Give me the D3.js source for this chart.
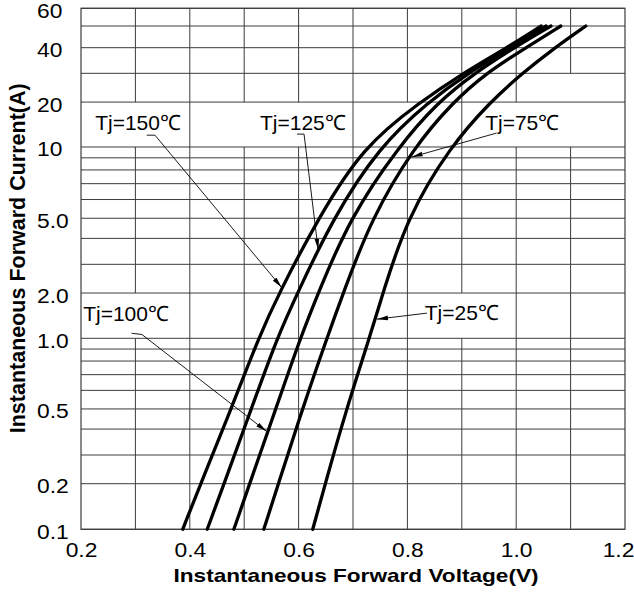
<!DOCTYPE html>
<html>
<head>
<meta charset="utf-8">
<script src="https://cdn.jsdelivr.net/npm/d3@7"></script>
<style>
  body { margin: 0; background: #fff; }
  text { font-family: "Liberation Sans", Arial, sans-serif; }
</style>
</head>
<body>
<div id="chart"></div>
<script>
const currents = [0.1, 0.2, 0.5, 1, 2, 5, 10, 20, 30, 40, 50];

// forward voltage (V) of each curve at those currents
const vf150 = [0.387, 0.420, 0.476, 0.526, 0.564, 0.636, 0.718, 0.823, 0.902, 0.983, 1.046];
const vf125 = [0.432, 0.463, 0.513, 0.560, 0.598, 0.663, 0.748, 0.838, 0.911, 0.989, 1.055];
const vf100 = [0.481, 0.510, 0.558, 0.603, 0.636, 0.694, 0.783, 0.856, 0.923, 0.996, 1.064];
const vf75  = [0.536, 0.563, 0.607, 0.652, 0.682, 0.734, 0.812, 0.884, 0.944, 1.018, 1.082];
const vf25  = [0.626, 0.649, 0.688, 0.730, 0.755, 0.799, 0.878, 0.952, 1.011, 1.071, 1.128];

const seriesNames = ["Tj=150℃", "Tj=125℃", "Tj=100℃", "Tj=75℃", "Tj=25℃"];
const seriesVf = [vf150, vf125, vf100, vf75, vf25];

// label text anchor (V, A), leader line points (V, A), last one is the arrow tip
const labelAt   = [[0.226, 13.0], [0.529, 13.0], [0.204, 1.30], [0.943, 13.0], [0.832, 1.32]];
const leaderPts = [
  [[0.321, 12.0], [0.336, 12.0], [0.569, 2.16]],
  [[0.597, 12.2], [0.610, 12.2], [0.636, 3.53]],
  [[0.293, 1.08], [0.312, 1.06], [0.541, 0.39]],
  [[0.964, 12.4], [0.808, 9.07]],
  [[0.836, 1.47], [0.744, 1.34]]
];

const xTicks = [0.2, 0.4, 0.6, 0.8, 1.0, 1.2];
const yTicks = [0.1, 0.2, 0.5, 1, 2, 5, 10, 20, 40, 60];
const yTickLabels = ["0.1", "0.2", "0.5", "1.0", "2.0", "5.0", "10", "20", "40", "60"];

// the printed grid is not an exact log grid: where some of its lines sit (share of the height)
const yKnots     = [0.1, 0.2, 0.3, 0.5, 1, 2, 3, 5, 10, 20, 30, 40, 60];
const yKnotShare = [0, 0.0875, 0.1426, 0.231, 0.3666, 0.4535, 0.5086, 0.597, 0.7338, 0.820, 0.8752, 0.9244, 1];

const xGrid = d3.range(3, 12).map(k => k / 10);
const hGrid = [].concat(
    d3.range(1, 10).map(k => k / 10),
    d3.range(1, 10),
    d3.range(10, 70, 10));

// pieces of the vertical grid that are missing on the sheet: [V, fromA, toA]
const gridGaps = [
    [0.3, 10, 20], [0.5, 10, 20], [0.6, 10, 20], [0.8, 10, 20],
    [1.0, 10, 20], [1.1, 10, 20], [1.1, 20, 30],
    [0.3, 1, 2], [0.9, 1, 2]
];

const margin = {top: 8.3, right: 9, bottom: 64.7, left: 81},
      width = 634 - margin.left - margin.right,
      height = 594 - margin.top - margin.bottom;

const svg = d3.select("#chart")
    .append("svg")
    .attr("width", 634)
    .attr("height", 594)
    .append("g")
    .attr("transform", `translate(${margin.left}, ${margin.top})`);

const x = d3.scaleLinear().domain([0.2, 1.2]).range([0, width]);
const y = d3.scaleLog().domain(yKnots).range(yKnotShare.map(f => height * (1 - f)));

const gridColor = "#3c3c3c";

// horizontal grid
svg.append("g")
    .selectAll("line")
    .data(hGrid)
    .join("line")
        .attr("x1", 0)
        .attr("x2", width)
        .attr("y1", d => y(d))
        .attr("y2", d => y(d))
        .attr("stroke", gridColor)
        .attr("stroke-width", 1);

// vertical grid, band by band
const segs = [];
xGrid.forEach(v => {
    d3.pairs(hGrid).forEach(([lo, hi]) => {
        const gap = gridGaps.some(g => Math.abs(g[0] - v) < 1e-6 && g[1] === lo && g[2] === hi);
        if (!gap) segs.push({v, lo, hi});
    });
});
svg.append("g")
    .selectAll("line")
    .data(segs)
    .join("line")
        .attr("x1", d => x(d.v))
        .attr("x2", d => x(d.v))
        .attr("y1", d => y(d.lo))
        .attr("y2", d => y(d.hi))
        .attr("stroke", gridColor)
        .attr("stroke-width", 1);

// frame
svg.append("rect")
    .attr("width", width)
    .attr("height", height)
    .attr("fill", "none")
    .attr("stroke", gridColor)
    .attr("stroke-width", 1.2);

// curves
const line = d3.line()
    .x(d => x(d.v))
    .y(d => y(d.i))
    .curve(d3.curveBasis);

svg.append("g")
    .selectAll("path")
    .data(seriesVf.map(vf => vf.map((v, k) => ({v, i: currents[k]}))))
    .join("path")
        .attr("d", line)
        .attr("fill", "none")
        .attr("stroke", "#000")
        .attr("stroke-width", 3.3)
        .attr("stroke-linecap", "round");

// arrow marker
svg.append("defs").append("marker")
    .attr("id", "arrow")
    .attr("markerUnits", "userSpaceOnUse")
    .attr("viewBox", "0 -3 11 6")
    .attr("refX", 11)
    .attr("refY", 0)
    .attr("markerWidth", 11)
    .attr("markerHeight", 6)
    .attr("orient", "auto")
    .append("path")
    .attr("d", "M0,-2.3L11,0L0,2.3Z")
    .attr("fill", "#000");

const leader = d3.line()
    .x(d => x(d[0]))
    .y(d => y(d[1]));

svg.append("g")
    .selectAll("path")
    .data(leaderPts)
    .join("path")
        .attr("d", leader)
        .attr("fill", "none")
        .attr("stroke", "#000")
        .attr("stroke-width", 0.9)
        .attr("marker-end", "url(#arrow)");

svg.append("g")
    .selectAll("text")
    .data(seriesNames)
    .join("text")
        .attr("x", (d, k) => x(labelAt[k][0]))
        .attr("y", (d, k) => y(labelAt[k][1]))
        .attr("font-size", 21)
        .attr("fill", "#000")
        .text(d => d);

// axes (labels only, the frame is drawn above)
const xAxis = svg.append("g")
    .attr("transform", `translate(0, ${height})`)
    .call(d3.axisBottom(x).tickValues(xTicks).tickSize(0).tickFormat(d3.format(".1f")));
xAxis.select(".domain").remove();
xAxis.selectAll("text")
    .attr("y", null)
    .attr("dy", null)
    .attr("font-size", 19.5)
    .attr("font-family", "Liberation Sans, Arial, sans-serif")
    .attr("fill", "#000")
    // last label is pulled in so it stays on the page
    .attr("transform", d => `translate(${d === 1.2 ? -7 : 0}, 27.5) scale(1.17, 1)`);

const yAxis = svg.append("g")
    .call(d3.axisLeft(y).tickValues(yTicks).tickSize(0).tickFormat((d, k) => yTickLabels[k]));
yAxis.select(".domain").remove();
yAxis.selectAll("text")
    .attr("x", 0)
    .attr("dy", null)
    .attr("text-anchor", "start")
    .attr("font-size", 19.5)
    .attr("font-family", "Liberation Sans, Arial, sans-serif")
    .attr("fill", "#000")
    .attr("transform", "translate(-44, 9) scale(1.17, 1)");

// axis titles
svg.append("text")
    .attr("text-anchor", "middle")
    .attr("font-weight", "bold")
    .attr("font-size", 19)
    .attr("transform", `translate(${width / 2 + 3}, ${height + 52.5}) scale(1.19, 1)`)
    .text("Instantaneous Forward Voltage(V)");

svg.append("text")
    .attr("text-anchor", "middle")
    .attr("font-weight", "bold")
    .attr("font-size", 21.5)
    .attr("transform", `translate(${-margin.left + 25}, ${250}) rotate(-90)`)
    .text("Instantaneous Forward Current(A)");
</script>
</body>
</html>
